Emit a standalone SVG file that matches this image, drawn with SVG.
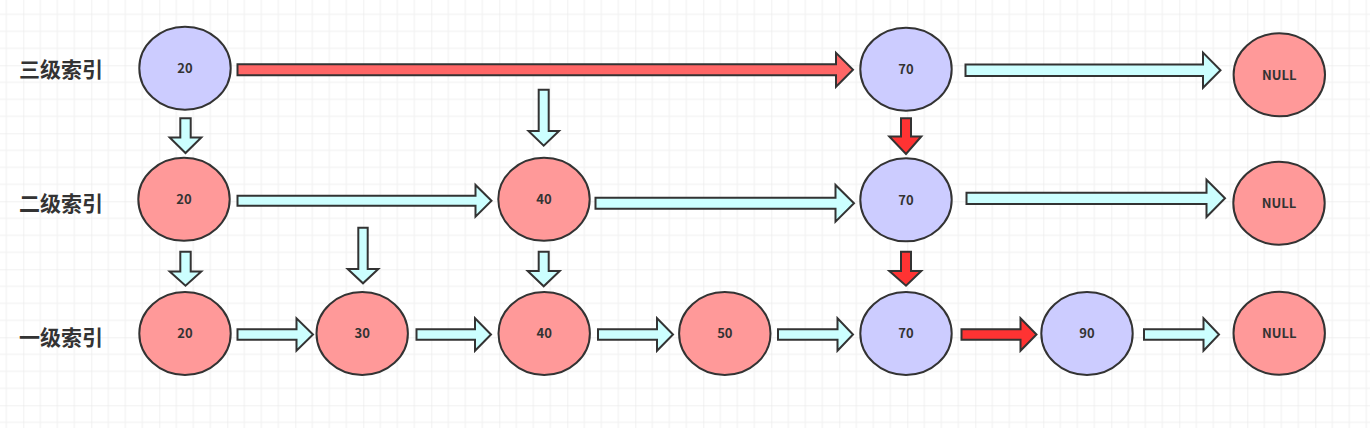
<svg xmlns="http://www.w3.org/2000/svg" width="1370" height="428" viewBox="0 0 1370 428">
<style>
.lbl{font-family:"Noto Sans CJK SC","Noto Sans",sans-serif;font-weight:bold;font-size:21px;fill:#333}
.num{font-family:"Noto Sans CJK SC","Noto Sans",sans-serif;font-weight:bold;font-size:13px;fill:#333;text-anchor:middle}
.blue{fill:#CCCCFF;stroke:#333;stroke-width:2}
.pink{fill:#FF9999;stroke:#333;stroke-width:2}
.cy{fill:#CCFFFF;stroke:#333;stroke-width:2;stroke-linejoin:miter}
.rd{fill:#FF3333;stroke:#333;stroke-width:2;stroke-linejoin:miter}
.rl{fill:#FF6666;stroke:#333;stroke-width:2;stroke-linejoin:miter}
</style>
<defs>
<pattern id="grid" patternUnits="userSpaceOnUse" x="23.3" y="65.3" width="68" height="68">
<path d="M17 0V68M34 0V68M51 0V68M0 17H68M0 34H68M0 51H68" stroke="#f0f0f0" stroke-width="1" fill="none"/>
<path d="M0 0V68M0 0H68" stroke="#e3e3e3" stroke-width="1" fill="none"/>
</pattern>
</defs>
<rect width="1370" height="428" fill="#fff"/>
<rect width="1370" height="428" fill="url(#grid)"/>

<g id="labels">
<text class="lbl" x="19" y="76.5">三级索引</text>
<text class="lbl" x="19" y="210.5">二级索引</text>
<text class="lbl" x="19" y="345">一级索引</text>
</g>

<g id="connectors">
<!-- row 1 -->
<polygon class="rl" points="237.5,64.3 836,64.3 836,52.8 853,69.8 836,86.8 836,75.3 237.5,75.3"/>
<polygon class="cy" points="965.5,64.4 1203,64.4 1203,52.6 1220.5,70.2 1203,87.8 1203,76 965.5,76"/>
<!-- row 2 -->
<polygon class="cy" points="237.5,195.8 475.5,195.8 475.5,185 491.5,200.8 475.5,216.6 475.5,205.8 237.5,205.8"/>
<polygon class="cy" points="595.5,197.7 835.5,197.7 835.5,185 854,203.3 835.5,221.6 835.5,208.7 595.5,208.7"/>
<polygon class="cy" points="966.5,192.7 1206.5,192.7 1206.5,179.7 1225,198.3 1206.5,217 1206.5,204 966.5,204"/>
<!-- row 3 -->
<polygon class="cy" points="237.5,329.3 296.5,329.3 296.5,318.3 313,334.5 296.5,350.7 296.5,339.7 237.5,339.7"/>
<polygon class="cy" points="416.5,329.3 475,329.3 475,318.3 491,334.5 475,350.7 475,339.7 416.5,339.7"/>
<polygon class="cy" points="598,329.3 657,329.3 657,318.3 673,334.5 657,350.7 657,339.7 598,339.7"/>
<polygon class="cy" points="778,329.3 837.5,329.3 837.5,318.3 853,334.5 837.5,350.7 837.5,339.7 778,339.7"/>
<polygon class="rd" points="961.5,329.3 1020.5,329.3 1020.5,318.3 1036.5,334.5 1020.5,350.7 1020.5,339.7 961.5,339.7"/>
<polygon class="cy" points="1144,329.3 1203.5,329.3 1203.5,318.3 1219,334.5 1203.5,350.7 1203.5,339.7 1144,339.7"/>
<!-- down arrows -->
<polygon class="cy" points="180.3,118.3 190.7,118.3 190.7,137.5 201.3,137.5 185.5,153 169.7,137.5 180.3,137.5"/>
<polygon class="cy" points="538.7,89.7 548.7,89.7 548.7,131 559,131 543.7,145.7 528.5,131 538.7,131"/>
<polygon class="rd" points="901,118.3 911,118.3 911,136.5 921.3,136.5 906,154 889.3,136.5 901,136.5"/>
<polygon class="cy" points="180.3,251.7 190.7,251.7 190.7,271.5 201.3,271.5 185.5,285.7 169.7,271.5 180.3,271.5"/>
<polygon class="cy" points="358.3,227.7 367.7,227.7 367.7,269 378.3,269 363,283.3 347.7,269 358.3,269"/>
<polygon class="cy" points="538.7,251.7 548.7,251.7 548.7,271 559.7,271 543.7,286.3 527.7,271 538.7,271"/>
<polygon class="rd" points="901,251.7 911,251.7 911,271 921.3,271 906,285.7 889.3,271 901,271"/>
</g>

<g id="n1-20"><ellipse class="blue" cx="185" cy="68.2" rx="45.7" ry="41.5"/><text class="num" x="185" y="73">20</text></g>
<g id="n1-70"><ellipse class="blue" cx="906" cy="69.2" rx="45.7" ry="41.5"/><text class="num" x="906" y="74">70</text></g>
<g id="n1-null"><ellipse class="pink" cx="1279.3" cy="74.8" rx="45.7" ry="41.5"/><text class="num" x="1279.3" y="79.6">NULL</text></g>

<g id="n2-20"><ellipse class="pink" cx="184" cy="199.3" rx="45.7" ry="41.5"/><text class="num" x="184" y="204.1">20</text></g>
<g id="n2-40"><ellipse class="pink" cx="544" cy="199.3" rx="45.7" ry="41.5"/><text class="num" x="544" y="204.1">40</text></g>
<g id="n2-70"><ellipse class="blue" cx="906" cy="199.8" rx="45.7" ry="41.5"/><text class="num" x="906" y="204.6">70</text></g>
<g id="n2-null"><ellipse class="pink" cx="1279" cy="203.2" rx="45.7" ry="41.5"/><text class="num" x="1279" y="208">NULL</text></g>

<g id="n3-20"><ellipse class="pink" cx="185" cy="333.5" rx="45.7" ry="41.5"/><text class="num" x="185" y="338.3">20</text></g>
<g id="n3-30"><ellipse class="pink" cx="362.2" cy="333.5" rx="45.7" ry="41.5"/><text class="num" x="362.2" y="338.3">30</text></g>
<g id="n3-40"><ellipse class="pink" cx="544.2" cy="333.5" rx="45.7" ry="41.5"/><text class="num" x="544.2" y="338.3">40</text></g>
<g id="n3-50"><ellipse class="pink" cx="724.8" cy="333.5" rx="45.7" ry="41.5"/><text class="num" x="724.8" y="338.3">50</text></g>
<g id="n3-70"><ellipse class="blue" cx="906" cy="333.5" rx="45.7" ry="41.5"/><text class="num" x="906" y="338.3">70</text></g>
<g id="n3-90"><ellipse class="blue" cx="1087" cy="333.5" rx="45.7" ry="41.5"/><text class="num" x="1087" y="338.3">90</text></g>
<g id="n3-null"><ellipse class="pink" cx="1279.2" cy="333.2" rx="45.7" ry="41.5"/><text class="num" x="1279.2" y="338">NULL</text></g>
</svg>
